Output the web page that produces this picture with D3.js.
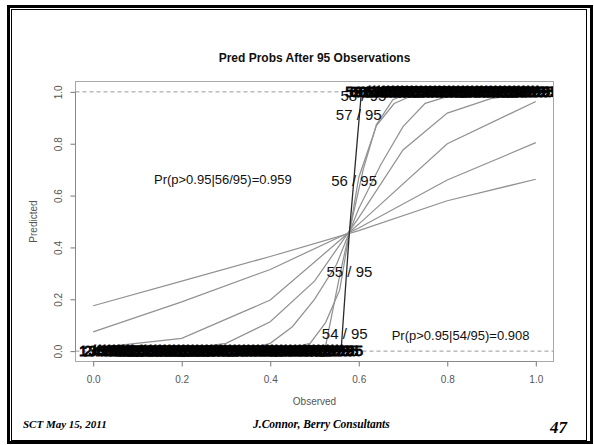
<!DOCTYPE html>
<html>
<head>
<meta charset="utf-8">
<script src="https://cdn.jsdelivr.net/npm/d3@7"></script>
<style>
  html, body { margin: 0; padding: 0; background: #fff; }
  svg { display: block; }
</style>
</head>
<body>
<svg id="slide" width="594" height="445"></svg>
<script>
// ---- data ----------------------------------------------------------------
const xTicks = [0, 0.2, 0.4, 0.6, 0.8, 1.0];
const yTicks = [0, 0.2, 0.4, 0.6, 0.8, 1.0];

// predictive-probability curves, [observed, predicted]
const curve1 = [[0, 0.175], [0.2, 0.27], [0.4, 0.365], [0.6, 0.465], [0.8, 0.58], [1.0, 0.663]];
const curve2 = [[0, 0.074], [0.2, 0.19], [0.4, 0.315], [0.6, 0.475], [0.8, 0.66], [1.0, 0.804]];
const curve3 = [[0, 0.012], [0.2, 0.049], [0.4, 0.197], [0.6, 0.49], [0.8, 0.80], [1.0, 0.963]];
const curve4 = [[0, 0], [0.1, 0.001], [0.2, 0.006], [0.3, 0.03], [0.4, 0.113], [0.5, 0.27],
                [0.6, 0.515], [0.7, 0.776], [0.8, 0.918], [0.9, 0.975], [1.0, 0.995]];
const curve5 = [[0, 0], [0.3, 0.001], [0.35, 0.008], [0.4, 0.03], [0.45, 0.094], [0.5, 0.2],
                [0.55, 0.335], [0.6, 0.55], [0.65, 0.72], [0.7, 0.866], [0.75, 0.956],
                [0.8, 0.982], [0.85, 0.995], [0.9, 1.0], [1.0, 1.0]];
const curve6 = [[0, 0], [0.42, 0], [0.49, 0.03], [0.525, 0.11], [0.557, 0.236], [0.6, 0.67],
                [0.64, 0.87], [0.68, 0.955], [0.72, 0.985], [0.76, 1.0], [1.0, 1.0]];
const curve7 = [[0, 0], [0.5, 0], [0.525, 0.02], [0.558, 0.30], [0.61, 0.70], [0.64, 0.874],
                [0.677, 0.97], [0.72, 1.0], [1.0, 1.0]];
const grayCurves = [curve1, curve2, curve3, curve4, curve5, curve6, curve7];

// current-trial curve (n = 95)
const trialCurve = [[0, 0], [0.56, 0], [0.5789, 0.46], [0.606, 1.0], [1.0, 1.0]];

// successes out of 95 written along the curve
const total = 95;
const lowFirst = 1, lowLast = 53;    // printed on the 0 line
const highFirst = 59, highLast = 95; // printed on the 1 line
const midCounts = [54, 55, 56, 57, 58];
const midLabelY = [0.066, 0.306, 0.659, 0.91, 0.985];

const notes = [
  { text: "Pr(p>0.95|56/95)=0.959", x: 0.293, y: 0.664 },
  { text: "Pr(p>0.95|54/95)=0.908", x: 0.830, y: 0.062 }
];
const refLines = [0, 1];

const title = "Pred Probs After 95 Observations";
const xTitle = "Observed";
const yTitle = "Predicted";
const footLeft = "SCT May 15, 2011";
const footMid = "J.Connor, Berry Consultants";
const pageNo = "47";

// ---- layout --------------------------------------------------------------
const svg = d3.select("#slide");
const sans = "'Liberation Sans', Arial, Helvetica, sans-serif";
const serif = "'Liberation Serif', 'Times New Roman', serif";

const plot = { left: 75.5, right: 553.5, top: 81.5, bottom: 361.5 };
const x = d3.scaleLinear().domain([-0.04, 1.04]).range([plot.left, plot.right]);
const y = d3.scaleLinear().domain([-0.04, 1.04]).range([plot.bottom, plot.top]);

// slide frame (thick outer rule with a thin inner rule)
svg.append("rect").attr("x", 8.5).attr("y", 6.5).attr("width", 583).attr("height", 436)
  .attr("fill", "none").attr("stroke", "#000").attr("stroke-width", 3);
svg.append("rect").attr("x", 11.5).attr("y", 9.5).attr("width", 575).attr("height", 431)
  .attr("fill", "none").attr("stroke", "#000").attr("stroke-width", 1);

// title
svg.append("text").attr("x", (plot.left + plot.right) / 2).attr("y", 62)
  .attr("text-anchor", "middle").attr("font-family", sans).attr("font-weight", "bold")
  .attr("font-size", 12).attr("fill", "#111").text(title);

svg.append("defs").append("clipPath").attr("id", "plotClip")
  .append("rect").attr("x", plot.left).attr("y", plot.top)
  .attr("width", plot.right - plot.left).attr("height", plot.bottom - plot.top);

const g = svg.append("g").attr("clip-path", "url(#plotClip)");

// dashed reference lines at 0 and 1
g.selectAll("line.ref").data(refLines).join("line").attr("class", "ref")
  .attr("x1", plot.left).attr("x2", plot.right)
  .attr("y1", d => y(d)).attr("y2", d => y(d))
  .attr("stroke", "#9a9a9a").attr("stroke-width", 1).attr("stroke-dasharray", "4,3");

const line = d3.line().x(d => x(d[0])).y(d => y(d[1]));

g.selectAll("path.curve").data(grayCurves).join("path").attr("class", "curve")
  .attr("d", line).attr("fill", "none").attr("stroke", "#929292").attr("stroke-width", 1.25);

g.append("path").datum(trialCurve).attr("d", line).attr("fill", "none")
  .attr("stroke", "#2a2a2a").attr("stroke-width", 1.3);

// count labels
const countLabels = [];
for (let k = lowFirst; k <= lowLast; k++) countLabels.push({ k, v: 0, band: true });
midCounts.forEach((k, i) => countLabels.push({ k, v: midLabelY[i], band: false }));
for (let k = highFirst; k <= highLast; k++) countLabels.push({ k, v: 1, band: true });

g.selectAll("text.count").data(countLabels).join("text").attr("class", "count")
  .attr("x", d => x(d.k / total)).attr("y", d => y(d.v)).attr("dy", "0.35em")
  .attr("text-anchor", "middle").attr("font-family", sans).attr("font-size", 15)
  .attr("fill", "#111")
  .attr("stroke", d => d.band ? "#000" : "none")
  .attr("stroke-width", d => d.band ? 0.9 : 0)
  .text(d => `${d.k} / ${total}`);

g.selectAll("text.note").data(notes).join("text").attr("class", "note")
  .attr("x", d => x(d.x)).attr("y", d => y(d.y)).attr("dy", "0.35em")
  .attr("text-anchor", "middle").attr("font-family", sans).attr("font-size", 13)
  .attr("fill", "#111").text(d => d.text);

// plot box
svg.append("rect").attr("x", plot.left).attr("y", plot.top)
  .attr("width", plot.right - plot.left).attr("height", plot.bottom - plot.top)
  .attr("fill", "none").attr("stroke", "#a8a8a8").attr("stroke-width", 1);

// axes
const fmt = d3.format(".1f");
const xAxis = svg.append("g").attr("transform", `translate(0,${plot.bottom})`)
  .call(d3.axisBottom(x).tickValues(xTicks).tickFormat(fmt).tickSize(5).tickSizeOuter(0).tickPadding(9));
const yAxis = svg.append("g").attr("transform", `translate(${plot.left},0)`)
  .call(d3.axisLeft(y).tickValues(yTicks).tickFormat(fmt).tickSize(5).tickSizeOuter(0));

[xAxis, yAxis].forEach(a => {
  a.select(".domain").remove();
  a.selectAll(".tick line").attr("stroke", "#777");
  a.selectAll("text").attr("font-family", sans).attr("font-size", 10).attr("fill", "#555");
});
yAxis.selectAll("text").attr("x", 0).attr("dy", "0.35em").attr("text-anchor", "middle")
  .attr("transform", `translate(${58.5 - plot.left},0) rotate(-90)`);

// axis lines span first to last tick
xAxis.append("line").attr("x1", x(xTicks[0])).attr("x2", x(xTicks[xTicks.length - 1]))
  .attr("stroke", "#888");
yAxis.append("line").attr("y1", y(yTicks[0])).attr("y2", y(yTicks[yTicks.length - 1]))
  .attr("stroke", "#888");

// axis titles
svg.append("text").attr("x", (plot.left + plot.right) / 2).attr("y", 405)
  .attr("text-anchor", "middle").attr("font-family", sans).attr("font-size", 10)
  .attr("fill", "#555").text(xTitle);
svg.append("text").attr("transform", `translate(33.5,${(y(0) + y(1)) / 2}) rotate(-90)`)
  .attr("dy", "0.35em").attr("text-anchor", "middle").attr("font-family", sans)
  .attr("font-size", 10).attr("fill", "#555").text(yTitle);

// footer
const foot = svg.append("g").attr("font-family", serif).attr("font-weight", "bold")
  .attr("font-style", "italic").attr("fill", "#000");
foot.append("text").attr("x", 23).attr("y", 428).attr("font-size", 11).text(footLeft);
foot.append("text").attr("x", 253).attr("y", 428).attr("font-size", 11.5).text(footMid);
foot.append("text").attr("x", 550).attr("y", 433).attr("font-size", 17).text(pageNo);
</script>
</body>
</html>
